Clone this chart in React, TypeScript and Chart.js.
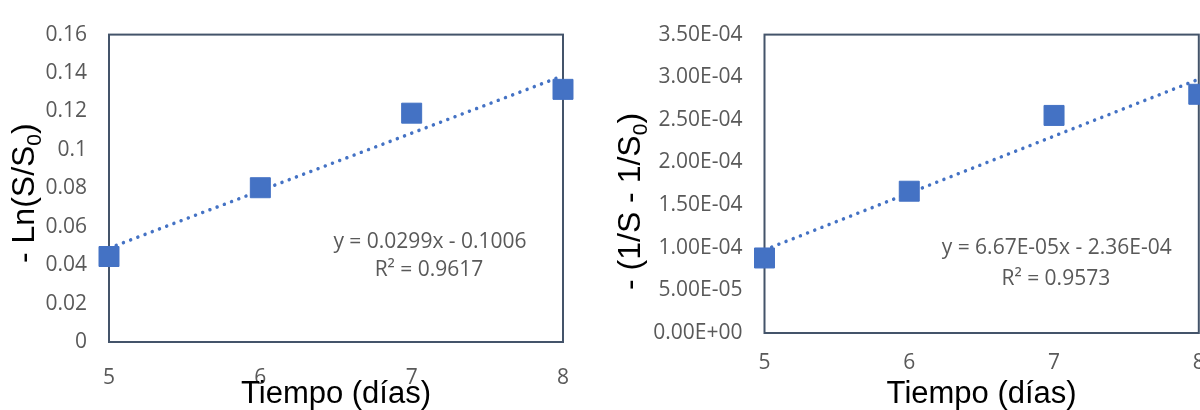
import React, { useEffect, useRef } from 'react';
import { Chart, registerables } from 'chart.js';

Chart.register(...registerables);

// ---- data ----
const days = [5, 6, 7, 8];
const lnValues = [0.0445, 0.0803, 0.1191, 0.1315];
const invValues = [0.000088, 0.0001663, 0.0002552, 0.00028];

const trendDays = [5, 8];
const lnTrendValues = [0.0489, 0.1386];
const invTrendValues = [0.0000975, 0.0002977];

const xTickLabels = ['5', '6', '7', '8'];
const lnTickLabels = ['0', '0.02', '0.04', '0.06', '0.08', '0.1', '0.12', '0.14', '0.16'];
const invTickLabels = ['0.00E+00', '5.00E-05', '1.00E-04', '1.50E-04', '2.00E-04', '2.50E-04', '3.00E-04', '3.50E-04'];

const lnEquation = ['y = 0.0299x - 0.1006', 'R\u00B2 = 0.9617'];
const invEquation = ['y = 6.67E-05x - 2.36E-04', 'R\u00B2 = 0.9573'];

const xTitle = 'Tiempo (d\u00EDas)';
const lnTitleParts = ['- Ln(S/S', '0', ')'];
const invTitleParts = ['- (1/S - 1/S', '0', ')'];

const BLUE = '#4472C4';
const TICK_COLOR = '#595959';
const BOX_COLOR = '#44546A';
const TICK_FONT = '"Open Sans", "Noto Sans", sans-serif';
const TITLE_FONT = '"Liberation Sans", Arial, sans-serif';

type PanelSpec = {
  values: number[];
  trend: number[];
  yMax: number;
  yStep: number;
  yLabels: string[];
  equation: string[];
  eqPos: [number, number][];
  titleParts: string[];
  titleX: number;
  titleY: number;
  yWidth: number;
  xHeight: number;
  padTop: number;
  padRight: number;
  xTickOffset: number;
};

const leftSpec: PanelSpec = {
  values: lnValues,
  trend: lnTrendValues,
  yMax: 0.16,
  yStep: 0.02,
  yLabels: lnTickLabels,
  equation: lnEquation,
  eqPos: [[430, 242], [429, 270]],
  titleParts: lnTitleParts,
  titleX: 34,
  titleY: 263,
  yWidth: 109,
  xHeight: 68,
  padTop: 33,
  padRight: 37,
  xTickOffset: 23,
};

const rightSpec: PanelSpec = {
  values: invValues,
  trend: invTrendValues,
  yMax: 0.00035,
  yStep: 0.00005,
  yLabels: invTickLabels,
  equation: invEquation,
  eqPos: [[456.7, 248], [455.8, 279]],
  titleParts: invTitleParts,
  titleX: 40,
  titleY: 290,
  yWidth: 164.5,
  xHeight: 77,
  padTop: 23,
  padRight: 1.2,
  xTickOffset: 17,
};

function makeTextPlugin(spec: PanelSpec) {
  return {
    id: 'panelText',
    beforeDatasetsDraw(chart: any) {
      const { ctx, chartArea } = chart;
      ctx.save();
      ctx.strokeStyle = BOX_COLOR;
      ctx.lineWidth = 2;
      ctx.strokeRect(chartArea.left, chartArea.top, chartArea.right - chartArea.left, chartArea.bottom - chartArea.top);
      ctx.restore();
    },
    afterDraw(chart: any) {
      const { ctx, chartArea } = chart;
      ctx.save();
      // trendline equation
      ctx.fillStyle = TICK_COLOR;
      ctx.font = `21px ${TICK_FONT}`;
      ctx.textAlign = 'center';
      ctx.textBaseline = 'middle';
      spec.equation.forEach((line, i) => {
        ctx.fillText(line, spec.eqPos[i][0], spec.eqPos[i][1]);
      });
      // x title
      ctx.fillStyle = '#000000';
      ctx.font = `31px ${TITLE_FONT}`;
      ctx.textBaseline = 'alphabetic';
      ctx.fillText(xTitle, (chartArea.left + chartArea.right) / 2, 403);
      // y title (rotated, with subscript)
      ctx.translate(spec.titleX, spec.titleY);
      ctx.rotate(-Math.PI / 2);
      ctx.textAlign = 'left';
      let cx = 0;
      spec.titleParts.forEach((part, i) => {
        const sub = i === 1;
        ctx.font = `${sub ? 21 : 32}px ${TITLE_FONT}`;
        ctx.fillText(part, cx, sub ? 7 : 0);
        cx += ctx.measureText(part).width;
      });
      ctx.restore();
    },
  };
}

function Panel({ spec }: { spec: PanelSpec }) {
  const ref = useRef<HTMLCanvasElement | null>(null);
  useEffect(() => {
    if (!ref.current) return;
    const chart = new Chart(ref.current, {
      type: 'scatter',
      data: {
        datasets: [
          {
            data: days.map((d, i) => ({ x: d, y: spec.values[i] })),
            pointStyle: 'rect',
            pointRadius: 14.14,
            pointHoverRadius: 14.14,
            backgroundColor: BLUE,
            borderColor: BLUE,
            borderWidth: 1,
            showLine: false,
            clip: false,
          },
          {
            data: trendDays.map((d, i) => ({ x: d, y: spec.trend[i] })),
            showLine: true,
            pointRadius: 0,
            borderColor: BLUE,
            borderWidth: 3.5,
            borderCapStyle: 'round',
            borderDash: [0.01, 7.7],
            fill: false,
            clip: false,
          } as any,
        ],
      },
      options: {
        animation: false,
        responsive: false,
        events: [],
        layout: {
          autoPadding: false,
          padding: { left: 0, top: spec.padTop, right: spec.padRight, bottom: 0 },
        },
        plugins: {
          legend: { display: false },
          tooltip: { enabled: false },
        },
        scales: {
          x: {
            type: 'linear',
            min: 5,
            max: 8,
            grid: { display: false, drawTicks: true, tickLength: spec.xTickOffset + 7 },
            border: { display: false },
            ticks: {
              stepSize: 1,
              padding: -7,
              color: TICK_COLOR,
              font: { family: TICK_FONT, size: 21 },
              callback: (_v: any, i: number) => xTickLabels[i],
            },
            afterFit: (scale: any) => {
              scale.height = spec.xHeight;
            },
          },
          y: {
            type: 'linear',
            min: 0,
            max: spec.yMax,
            grid: { display: false, drawTicks: false },
            border: { display: false },
            ticks: {
              stepSize: spec.yStep,
              padding: 22,
              color: TICK_COLOR,
              font: { family: TICK_FONT, size: 21 },
              callback: (_v: any, i: number) => spec.yLabels[i],
            },
            afterFit: (scale: any) => {
              scale.width = spec.yWidth;
            },
          },
        },
      },
      plugins: [makeTextPlugin(spec)],
    } as any);
    return () => chart.destroy();
  }, [spec]);
  return <canvas ref={ref} width={600} height={410} style={{ width: 600, height: 410, display: 'block' }} />;
}

export default function App() {
  return (
    <div style={{ position: 'fixed', left: 0, top: 0, width: 1200, height: 410, background: '#ffffff', display: 'flex', overflow: 'hidden' }}>
      <Panel spec={leftSpec} />
      <Panel spec={rightSpec} />
    </div>
  );
}
